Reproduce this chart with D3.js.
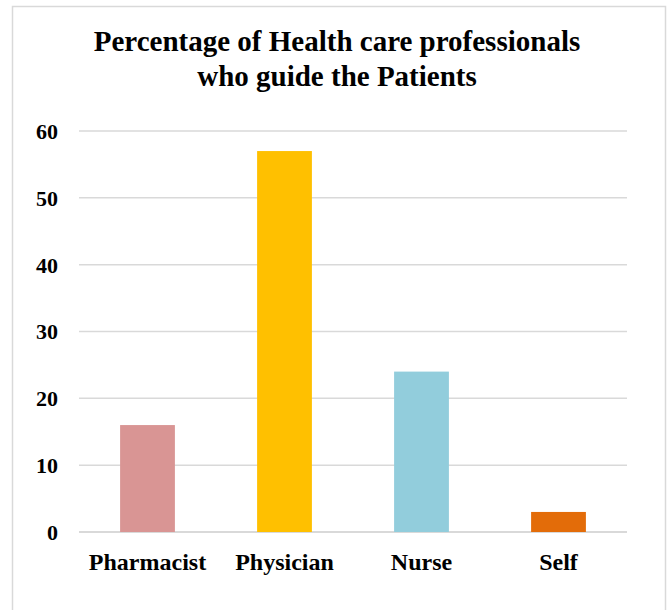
<!DOCTYPE html>
<html>
<head>
<meta charset="utf-8">
<script src="https://cdn.jsdelivr.net/npm/d3@7"></script>
<style>
html,body{margin:0;padding:0;background:#fff;}
svg{display:block;}
</style>
</head>
<body>
<svg id="chart" width="670" height="610"></svg>
<script>
const categories = ["Pharmacist", "Physician", "Nurse", "Self"];
const values = [16, 57, 24, 3];
const barColors = ["#D99594", "#FFC000", "#92CDDC", "#E36C09"];
const yTicks = [0, 10, 20, 30, 40, 50, 60];
const titleLines = ["Percentage of Health care professionals", "who guide the Patients"];

const svg = d3.select("#chart");
const font = "'Liberation Serif','Times New Roman',serif";

// outer border
svg.append("rect")
  .attr("x", 12.5).attr("y", 6.5)
  .attr("width", 653).attr("height", 610)
  .attr("fill", "#fff").attr("stroke", "#D9D9D9").attr("stroke-width", 1.5);

// title
svg.append("g").selectAll("text").data(titleLines).join("text")
  .attr("x", 337).attr("y", (d, i) => 51 + i * 35)
  .attr("text-anchor", "middle")
  .attr("font-family", font).attr("font-weight", "bold").attr("font-size", 29)
  .attr("fill", "#000")
  .text(d => d);

const x = d3.scaleBand().domain(categories).range([79, 627]).paddingInner(0.6).paddingOuter(0.3);
const y = d3.scaleLinear().domain([0, 60]).range([532, 131]);

// gridlines
svg.append("g").selectAll("line").data(yTicks).join("line")
  .attr("x1", 79).attr("x2", 627)
  .attr("y1", d => y(d)).attr("y2", d => y(d))
  .attr("stroke", "#D9D9D9").attr("stroke-width", d => d === 0 ? 2 : 1.5);

// y axis labels
const yAxis = d3.axisLeft(y).tickValues(yTicks).tickSize(0).tickPadding(0);
const yg = svg.append("g").attr("transform", "translate(58,0)").call(yAxis);
yg.select(".domain").remove();
yg.selectAll("text")
  .attr("font-family", font).attr("font-weight", "bold").attr("font-size", 22)
  .attr("fill", "#000").attr("dy", "0.34em");

// bars
svg.append("g").selectAll("rect").data(values).join("rect")
  .attr("x", (d, i) => x(categories[i]))
  .attr("width", x.bandwidth())
  .attr("y", d => y(d))
  .attr("height", d => y(0) - y(d))
  .attr("fill", (d, i) => barColors[i]);

// x axis labels
const xAxis = d3.axisBottom(x).tickSize(0).tickPadding(0);
const xg = svg.append("g").attr("transform", "translate(0,532)").call(xAxis);
xg.select(".domain").remove();
xg.selectAll("text")
  .attr("font-family", font).attr("font-weight", "bold").attr("font-size", 24)
  .attr("fill", "#000").attr("dy", 0).attr("y", 38);
</script>
</body>
</html>
